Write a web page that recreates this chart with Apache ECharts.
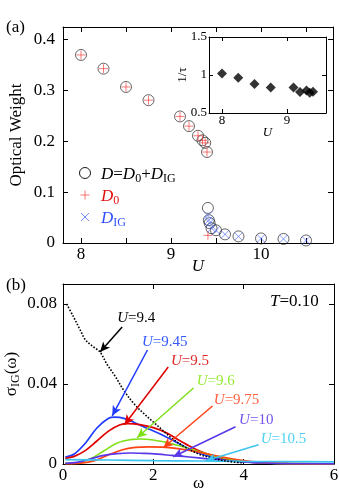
<!DOCTYPE html>
<html><head><meta charset="utf-8">
<script src="https://cdn.jsdelivr.net/npm/echarts@6/dist/echarts.min.js"></script>
<style>html,body{margin:0;padding:0;background:#fff}#c{width:339px;height:498px}</style>
</head><body><div id="c"></div>
<script>
// ---------- Panel (a) data ----------
const U_D   = [8, 8.25, 8.5, 8.75, 9.1, 9.2, 9.3, 9.35, 9.38, 9.4, 9.41, 9.42, 9.43, 9.45, 9.5, 9.6, 9.75, 10, 10.25, 10.5];
const D     = [0.370, 0.343, 0.307, 0.281, 0.249, 0.230, 0.211, 0.202, 0.197, 0.179, 0.069, 0.045, 0.039, 0.029, 0.025, 0.017, 0.013, 0.009, 0.008, 0.005];
const U_D0  = [8, 8.25, 8.5, 8.75, 9.1, 9.2, 9.3, 9.35, 9.38, 9.4, 9.41];
const D0    = [0.370, 0.343, 0.307, 0.281, 0.249, 0.230, 0.211, 0.202, 0.197, 0.179, 0.015];
const U_DIG = [9.41, 9.42, 9.43, 9.45, 9.5, 9.6, 9.75, 10, 10.25, 10.5];
const DIG   = [0.054, 0.045, 0.039, 0.029, 0.025, 0.017, 0.013, 0.009, 0.008, 0.005];
const xTicksA = [8, 8.5, 9, 9.5, 10, 10.5];
const xLabelsA = [8, 9, 10];
const yTicksA = [0, 0.1, 0.2, 0.3, 0.4];

// ---------- Inset data ----------
const U_tau  = [8, 8.25, 8.5, 8.75, 9.1, 9.2, 9.3, 9.35, 9.4];
const invTau = [1.02, 0.965, 0.88, 0.835, 0.835, 0.775, 0.795, 0.765, 0.78];
const xTicksIn = [8, 9];
const yTicksIn = [0.5, 1, 1.5];

// ---------- Panel (b) data: [omega, sigma_IG] ----------
const curve94 = [[0.08,0.0800],[0.23,0.0737],[0.38,0.0670],[0.5,0.0620],[0.67,0.0586],[0.82,0.0560],[0.97,0.0500],[1.16,0.0437],[1.34,0.0370],[1.56,0.0304],[1.78,0.0254],[2.0,0.0210],[2.2,0.0170],[2.4,0.0130],[2.7,0.0085],[3.0,0.0050],[3.3,0.0030],[3.6,0.0015],[4.0,0.0005]];
const curve945 = [[0.05,0.0035],[0.25,0.0050],[0.5,0.0105],[0.75,0.0180],[1.0,0.0228],[1.15,0.0234],[1.35,0.0228],[1.6,0.0205],[1.9,0.0175],[2.2,0.0145],[2.5,0.0110],[2.8,0.0075],[3.1,0.0048],[3.5,0.0025],[4.0,0.0010],[4.5,0.0004],[5.0,0.0002],[6.0,0.0001]];
const curve95 = [[0.05,0.0028],[0.25,0.0038],[0.5,0.0068],[0.75,0.0115],[1.0,0.0163],[1.25,0.0195],[1.45,0.0202],[1.7,0.0197],[2.0,0.0182],[2.3,0.0155],[2.6,0.0115],[2.9,0.0078],[3.2,0.0050],[3.6,0.0025],[4.0,0.0012],[4.5,0.0005],[5.0,0.0002],[6.0,0.0001]];
const curve96 = [[0.05,0.0003],[0.3,0.0006],[0.6,0.0025],[0.9,0.0065],[1.2,0.0105],[1.5,0.0122],[1.7,0.0125],[2.0,0.0120],[2.3,0.0107],[2.6,0.0090],[3.0,0.0062],[3.4,0.0038],[3.8,0.0020],[4.2,0.0010],[4.6,0.0004],[5.0,0.0002],[6.0,0.0001]];
const curve975 = [[0.05,0.0001],[0.4,0.0004],[0.7,0.0017],[1.0,0.0045],[1.3,0.0070],[1.6,0.0083],[1.9,0.0086],[2.2,0.0084],[2.5,0.0078],[2.8,0.0068],[3.2,0.0050],[3.6,0.0032],[4.0,0.0017],[4.4,0.0008],[4.8,0.0003],[5.5,0.0001],[6.0,0.0001]];
const curve10 = [[0.05,0.0003],[0.3,0.0008],[0.6,0.0025],[0.9,0.0043],[1.2,0.0052],[1.5,0.0055],[1.8,0.0053],[2.1,0.0049],[2.4,0.0043],[2.8,0.0035],[3.2,0.0026],[3.6,0.0017],[4.0,0.0010],[4.5,0.0005],[5.0,0.0002],[6.0,0.0001]];
const curve105 = [[0.05,0.0022],[1.0,0.0020],[2.0,0.0017],[3.0,0.0015],[4.0,0.0013],[5.0,0.0012],[6.0,0.0011]];
const xTicksB = [0, 2, 4, 6];
const yTicksB = [0, 0.04, 0.08];

// annotation arrows (from, to) and label anchors in data coordinates
const arrows = {
  '9.4':  [[1.31,0.0685],[0.82,0.056]],
  '9.45': [[1.87,0.057],[1.09,0.0241]],
  '9.5':  [[2.33,0.0485],[1.36,0.0196]],
  '9.6':  [[2.89,0.038],[1.64,0.0131]],
  '9.75': [[3.31,0.029],[2.22,0.0081]],
  '10':   [[3.82,0.0186],[2.44,0.0036]],
  '10.5': [[4.33,0.0096],[3.16,0.0016]]
};
const labelAt = {
  '9.4': [1.2,0.0728], '9.45': [1.75,0.061], '9.5': [2.39,0.0515], '9.6': [2.96,0.0412],
  '9.75': [3.34,0.032], '10': [3.9,0.0221], '10.5': [4.38,0.0126]
};

const FF = 'Liberation Serif';
const zip = (a, b) => a.map((v, i) => [v, b[i]]);

function axisBase(o) {
  const fs = o.fs || 17, tl = o.tl || 5;
  const lab = { show: !o.noLabel, customValues: o.labels || o.ticks, fontFamily: FF, fontSize: fs, color: '#000', margin: o.margin == null ? 6 : o.margin,
      hideOverlap: false, showMinLabel: true, showMaxLabel: true, formatter: v => String(+v.toFixed(4)) };
  return Object.assign({
    type: 'value',
    nameMoveOverlap: false,
    axisLine: { show: true, onZero: false, lineStyle: { color: '#000', width: 1 } },
    axisTick: { show: true, inside: true, length: tl, customValues: o.ticks, lineStyle: { color: '#000', width: 1 } },
    axisLabel: lab,
    splitLine: { show: false }
  }, o.extra || {});
}

const rich = (fs) => ({
  i: { fontFamily: FF, fontStyle: 'italic', fontSize: fs, lineHeight: fs + 2, verticalAlign: 'top' },
  n: { fontFamily: FF, fontSize: fs, lineHeight: fs + 2, verticalAlign: 'top' },
  sub: { fontFamily: FF, fontSize: Math.round(fs * 0.7), lineHeight: Math.round(fs * 0.7), padding: [Math.round(fs*0.55), 0, 0, 0], verticalAlign: 'bottom' }
});

const curveDefs = [
  { key: '9.4',  data: curve94,  color: '#000000', lab: '#000000', dotted: true },
  { key: '9.45', data: curve945, color: '#1f3cff', lab: '#3358ff' },
  { key: '9.5',  data: curve95,  color: '#e00000', lab: '#e02828' },
  { key: '9.6',  data: curve96,  color: '#7fe01a', lab: '#96ea34' },
  { key: '9.75', data: curve975, color: '#ff4214', lab: '#ff6040' },
  { key: '10',   data: curve10,  color: '#5a38ea', lab: '#7452ef' },
  { key: '10.5', data: curve105, color: '#3cc4f0', lab: '#4cd0f4' }
];

const seriesB = curveDefs.map(c => ({
  type: 'line', xAxisIndex: 4, yAxisIndex: 4, data: c.data, smooth: 0.35, showSymbol: false, silent: true,
  lineStyle: { color: c.color, width: c.dotted ? 1.6 : 1.7, type: c.dotted ? [1.6, 1.6] : 'solid' },
  z: c.dotted ? 3 : 2,
  markLine: {
    silent: true, symbol: ['none', 'arrow'], symbolSize: [7, 10], animation: false,
    lineStyle: { color: c.color, width: 1.5, type: 'solid' }, label: { show: false },
    data: [[{ coord: arrows[c.key][0] }, { coord: arrows[c.key][1] }]]
  },
  markPoint: {
    silent: true, symbol: 'rect', symbolSize: 0.1, itemStyle: { color: 'rgba(0,0,0,0)' }, animation: false,
    data: [{ coord: labelAt[c.key],
      label: { show: true, position: [0, 0], align: 'left', verticalAlign: 'middle', color: c.lab, fontFamily: FF, fontSize: 15,
        formatter: '{i|U}{n|=' + c.key + '}', rich: { i: { fontStyle: 'italic', fontFamily: FF, fontSize: 15, color: c.lab }, n: { fontFamily: FF, fontSize: 15, color: c.lab } } } }]
  }
}));

const plusPath = 'path://M5,0L5,10M0,5L10,5';
const crossPath = 'path://M0,0L10,10M10,0L0,10';

const baseGraphic = [
  { type: 'text', left: 6, top: 19, style: { text: '(a)', fontFamily: FF, fontSize: 17, fill: '#000' } },
  { type: 'text', left: 6, top: 277, style: { text: '(b)', fontFamily: FF, fontSize: 17, fill: '#000' } },
  { type: 'text', left: 270, top: 293, style: { text: '{i|T}{n|=0.10}', fontFamily: FF, fontSize: 17, fill: '#000', rich: rich(17) } },
  // legend of panel (a)
  { type: 'circle', shape: { cx: 85, cy: 173, r: 5.5 }, style: { fill: 'none', stroke: '#000', lineWidth: 0.9 } },
  { type: 'text', left: 101, top: 164, style: { text: '{i|D}{n|=}{i|D}{sub|0}{n|+}{i|D}{sub|IG}', fontFamily: FF, fontSize: 17, fill: '#000', rich: rich(17) } },
  { type: 'polyline', shape: { points: [[85, 190.5], [85, 199.5]] }, style: { stroke: '#f05050', lineWidth: 0.8 } },
  { type: 'polyline', shape: { points: [[80.5, 195], [89.5, 195]] }, style: { stroke: '#f05050', lineWidth: 0.8 } },
  { type: 'text', left: 101, top: 186, style: { text: '{i|D}{sub|0}', fontFamily: FF, fontSize: 17, fill: '#e01010', rich: rich(17) } },
  { type: 'polyline', shape: { points: [[81, 213], [89, 221]] }, style: { stroke: '#5070ff', lineWidth: 0.8 } },
  { type: 'polyline', shape: { points: [[89, 213], [81, 221]] }, style: { stroke: '#5070ff', lineWidth: 0.8 } },
  { type: 'text', left: 101, top: 208, style: { text: '{i|D}{sub|IG}', fontFamily: FF, fontSize: 17, fill: '#3050ff', rich: rich(17) } }
];

const option = {
  animation: false,
  backgroundColor: '#fff',
  grid: [
    { left: 63, top: 27, width: 270, height: 216, outerBoundsMode: 'none', containLabel: false },
    { left: 209, top: 37, width: 117, height: 76, show: true, backgroundColor: '#fff', borderWidth: 0, outerBoundsMode: 'none', containLabel: false },
    { left: 63, top: 284, width: 271, height: 180, outerBoundsMode: 'none', containLabel: false }
  ],
  xAxis: [
    axisBase({ ticks: xTicksA, labels: xLabelsA, margin: 3, extra: { gridIndex: 0, min: 7.8, max: 10.8, position: 'bottom',
      name: 'U', nameLocation: 'middle', nameGap: 15, nameTextStyle: { fontFamily: FF, fontStyle: 'italic', fontSize: 17, color: '#000' } } }),
    axisBase({ ticks: xTicksA, noLabel: true, extra: { gridIndex: 0, min: 7.8, max: 10.8, position: 'top' } }),
    axisBase({ ticks: xTicksIn, fs: 13, tl: 4, margin: 1, extra: { gridIndex: 1, min: 7.8, max: 9.6, position: 'bottom',
      name: 'U', nameLocation: 'middle', nameGap: 13, nameTextStyle: { fontFamily: FF, fontStyle: 'italic', fontSize: 13, color: '#000' } } }),
    axisBase({ ticks: xTicksIn, noLabel: true, tl: 4, extra: { gridIndex: 1, min: 7.8, max: 9.6, position: 'top' } }),
    axisBase({ ticks: xTicksB, margin: 3, extra: { gridIndex: 2, min: 0, max: 6, position: 'bottom',
      name: 'ω', nameLocation: 'middle', nameGap: 11, nameTextStyle: { fontFamily: FF, fontSize: 17, color: '#000' } } }),
    axisBase({ ticks: xTicksB, noLabel: true, extra: { gridIndex: 2, min: 0, max: 6, position: 'top' } })
  ],
  yAxis: [
    axisBase({ ticks: yTicksA, margin: 8, extra: { gridIndex: 0, min: 0, max: 0.425, position: 'left',
      name: 'Optical Weight', nameLocation: 'middle', nameGap: 38, nameTextStyle: { fontFamily: FF, fontSize: 17, color: '#000' } } }),
    axisBase({ ticks: yTicksA, noLabel: true, extra: { gridIndex: 0, min: 0, max: 0.425, position: 'right' } }),
    axisBase({ ticks: yTicksIn, fs: 13, tl: 4, margin: 2, extra: { gridIndex: 1, min: 0.5, max: 1.5, position: 'left' } }),
    axisBase({ ticks: yTicksIn, noLabel: true, tl: 4, extra: { gridIndex: 1, min: 0.5, max: 1.5, position: 'right' } }),
    axisBase({ ticks: yTicksB, margin: 6, extra: { gridIndex: 2, min: 0, max: 0.09, position: 'left',
      name: '{n|σ}{sub|IG}{n|(ω)}', nameLocation: 'middle', nameGap: 41, nameTextStyle: { fontFamily: FF, fontSize: 17, color: '#000', rich: rich(17) } } }),
    axisBase({ ticks: yTicksB, noLabel: true, extra: { gridIndex: 2, min: 0, max: 0.09, position: 'right' } })
  ],
  series: [
    { type: 'scatter', name: 'D', xAxisIndex: 0, yAxisIndex: 0, data: zip(U_D, D), symbol: 'circle', symbolSize: 11,
      itemStyle: { color: 'rgba(0,0,0,0)', borderColor: '#111', borderWidth: 0.8 }, silent: true, z: 2 },
    { type: 'scatter', name: 'D0', xAxisIndex: 0, yAxisIndex: 0, data: zip(U_D0, D0), symbol: plusPath, symbolSize: 9,
      itemStyle: { color: '#f03030', borderColor: '#f03030', borderWidth: 0.8 }, silent: true, z: 3 },
    { type: 'scatter', name: 'DIG', xAxisIndex: 0, yAxisIndex: 0, data: zip(U_DIG, DIG), symbol: crossPath, symbolSize: 8,
      itemStyle: { color: '#4060ff', borderColor: '#4060ff', borderWidth: 0.8 }, silent: true, z: 3 },
    { type: 'scatter', name: 'tau', xAxisIndex: 2, yAxisIndex: 2, data: zip(U_tau, invTau), symbol: 'diamond', symbolSize: 10,
      itemStyle: { color: '#000' }, silent: true, z: 7 }
  ].concat(seriesB),
  graphic: baseGraphic
};

const chart = echarts.init(document.getElementById('c'), null, { renderer: 'canvas' });
chart.setOption(option);

// inset y-axis title, placed through the inset's own scales
const mid = chart.convertToPixel({ xAxisIndex: 2, yAxisIndex: 2 }, [7.8, 1.0]);
chart.setOption({ graphic: baseGraphic.concat([
  { type: 'text', z: 20, x: mid[0] - 26, y: mid[1], rotation: Math.PI / 2,
    style: { text: '1/τ', fontFamily: FF, fontSize: 13, fill: '#000', align: 'center', verticalAlign: 'middle' } }
]) });
</script></body></html>
